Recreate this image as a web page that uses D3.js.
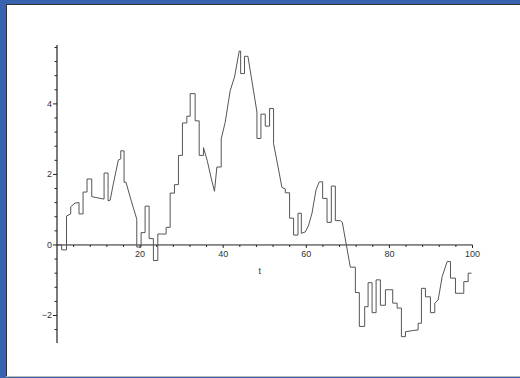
<!DOCTYPE html>
<html><head><meta charset="utf-8">
<script src="https://cdn.jsdelivr.net/npm/d3@7"></script>
<style>html,body{margin:0;padding:0;background:#fff;}svg{display:block;}</style>
</head><body>
<svg id="c" width="520" height="378"></svg>
<script>
// sample path of the process (t, value); repeated t = vertical jump
const tValues = [0,1.13,1.13,2.29,2.29,3.3,3.3,4.34,5.3,5.3,6.27,6.27,7.23,7.23,8.36,8.36,11.33,11.33,12.29,12.29,
12.8,13.5,14.77,15.35,15.35,16.14,16.14,16.6,17.6,19.2,19.2,20.24,20.24,21.2,21.2,22.17,22.17,23.2,23.2,24.27,24.27,
26.27,26.27,27.23,27.23,28.27,28.27,29.23,29.23,30.19,30.19,31.25,31.25,32.05,32.05,33.25,33.25,34.22,34.22,35.25,35.25,
36.14,37.1,37.9,38.48,39.52,39.52,40.48,41.69,42.72,43.86,44.2,44.2,45.13,45.13,45.95,48.12,48.12,49.08,49.08,50.12,50.12,
51.16,51.16,52.12,52.12,54.14,54.94,54.94,55.98,55.98,56.94,56.94,58,58,58.8,58.8,59.76,60.5,61.37,62.34,63.13,63.93,63.93,
64.99,64.99,66.02,66.02,66.99,66.99,68.19,68.67,69.64,70.6,71.81,71.81,72.77,72.77,74.05,74.05,74.87,74.87,75.83,75.83,
76.8,76.8,77.83,77.83,79.04,79.04,80.8,80.8,81.86,81.86,82.89,82.89,83.86,83.86,85.54,86.92,86.92,87.71,87.71,88.67,88.67,
89.88,89.88,90.92,90.92,91.73,92.7,93.9,94.7,94.7,95.9,95.9,97.9,97.9,98.96,98.96,99.76];
const vValues = [0,0,-0.14,-0.14,0.82,0.88,1.08,1.19,1.2,0.88,0.88,1.5,1.5,1.87,1.87,1.37,1.3,2.04,2.04,1.25,
1.27,1.7,2.41,2.44,2.67,2.67,1.78,1.78,1.36,0.73,-0.06,-0.06,0.35,0.35,1.1,1.1,0.18,0.18,-0.44,-0.44,0.31,
0.31,0.5,0.5,1.47,1.47,1.71,1.71,2.54,2.54,3.46,3.46,3.65,3.65,4.29,4.29,3.52,3.52,2.54,2.54,2.76,
2.4,1.9,1.52,2.21,2.21,3.01,3.48,4.38,4.76,5.5,5.5,4.86,4.86,5.35,5.35,3.77,3.02,3.02,3.71,3.71,3.37,
3.37,3.87,3.87,2.88,1.63,1.59,1.48,1.48,0.76,0.76,0.28,0.28,0.9,0.9,0.33,0.37,0.54,0.9,1.56,1.79,1.79,1.32,
1.32,0.64,0.64,1.67,1.67,0.69,0.69,0.64,0,-0.63,-0.63,-1.35,-1.35,-2.31,-2.31,-1.75,-1.75,-1.07,-1.07,-1.92,
-1.92,-0.99,-0.99,-1.71,-1.71,-1.27,-1.27,-1.65,-1.65,-1.79,-1.79,-2.6,-2.6,-2.46,-2.43,-2.41,-2.22,-2.22,-1.23,-1.23,-1.47,
-1.47,-1.92,-1.92,-1.65,-1.56,-0.9,-0.47,-0.47,-0.94,-0.94,-1.37,-1.37,-1.04,-1.04,-0.8,-0.8];
const xTickLabels = [20,40,60,80,100];
const xMinorTicks = d3.range(4,101,4);
const yTickLabels = [-2,0,2,4];
const yMinorTicks = d3.range(-2.4,5.61,0.4).map(d=>+d.toFixed(1));
const xLabel = "t";

const svg = d3.select("#c");
// frame
svg.append("rect").attr("width",520).attr("height",378).attr("fill","#3763af");
svg.append("rect").attr("x",7).attr("y",4).attr("width",513).attr("height",372).attr("fill","#fff");
svg.append("line").attr("x1",6.5).attr("x2",6.5).attr("y1",4).attr("y2",377).attr("stroke","#333").attr("stroke-width",1);
svg.append("line").attr("x1",6).attr("x2",520).attr("y1",4.5).attr("y2",4.5).attr("stroke","#333").attr("stroke-width",1);
svg.append("line").attr("x1",6).attr("x2",520).attr("y1",376.5).attr("y2",376.5).attr("stroke","#bbb").attr("stroke-width",1);

const x = d3.scaleLinear().domain([0,100]).range([57,472.5]);
const y = d3.scaleLinear().domain([-2.78,5.67]).range([343,45]);

const font = "'Liberation Sans', Arial, sans-serif";
const axisCol = "#222";

// x axis along y=0
const gx = svg.append("g").attr("transform",`translate(0,${y(0)})`);
gx.append("line").attr("x1",x(0)).attr("x2",x(100)).attr("stroke",axisCol).attr("stroke-width",1);
gx.selectAll("line.mt").data(xMinorTicks).join("line").attr("class","mt")
  .attr("x1",d=>x(d)).attr("x2",d=>x(d)).attr("y1",0).attr("y2",d=>xTickLabels.includes(d)?3:2)
  .attr("stroke",axisCol).attr("stroke-width",1);
gx.selectAll("text").data(xTickLabels).join("text")
  .attr("x",d=>x(d)).attr("y",12).attr("text-anchor","middle")
  .attr("font-family",font).attr("font-size",9).attr("fill","#333").text(d=>d);
svg.append("text").attr("x",x(48.8)).attr("y",y(0)+29).attr("text-anchor","middle")
  .attr("font-family",font).attr("font-size",9).attr("fill","#333").text(xLabel);

// y axis at t=0
const gy = svg.append("g").attr("transform",`translate(${x(0)},0)`);
gy.append("line").attr("y1",y(-2.78)).attr("y2",y(5.67)).attr("stroke",axisCol).attr("stroke-width",1.2);
gy.selectAll("line.mt").data(yMinorTicks).join("line").attr("class","mt")
  .attr("y1",d=>y(d)).attr("y2",d=>y(d)).attr("x1",d=>yTickLabels.includes(d)?-4:-2.5).attr("x2",0)
  .attr("stroke",axisCol).attr("stroke-width",1);
gy.selectAll("text").data(yTickLabels).join("text")
  .attr("x",-5).attr("y",d=>y(d)+3).attr("text-anchor","end")
  .attr("font-family",font).attr("font-size",9).attr("fill","#333").text(d=>d<0?"\u2212"+(-d):d);

// path
const pts = tValues.map((t,i)=>[t,vValues[i]]);
svg.append("path").datum(pts)
  .attr("d",d3.line().x(d=>x(d[0])).y(d=>y(d[1])))
  .attr("fill","none").attr("stroke","#555").attr("stroke-width",1);
</script>
</body></html>
